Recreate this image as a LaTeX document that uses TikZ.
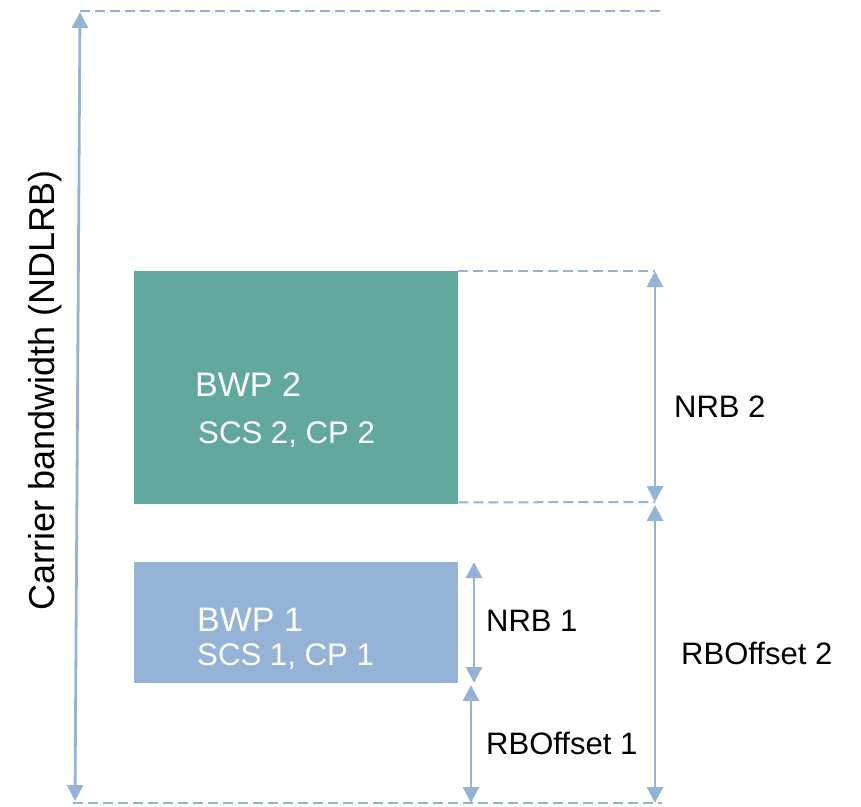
\documentclass[tikz,border=0pt]{standalone}
\usepackage{fontspec}
\setmainfont{Liberation Sans}
\usetikzlibrary{arrows.meta}
\definecolor{bwpgreen}{RGB}{98,168,158}
\definecolor{bwpblue}{RGB}{149,179,215}
\definecolor{dimline}{RGB}{149,179,215}
\begin{document}
\begin{tikzpicture}[x=1pt,y=-1pt,
  dimtip/.tip={Triangle[length=16pt,width=16pt]},
  dimarrow/.style={draw=dimline, fill=dimline, line width=2.8pt, dimtip-dimtip},
  guide/.style={draw=dimline, line width=2pt, dash pattern=on 10pt off 5pt},
  box/.style={draw=none, minimum width=324pt, anchor=north west, inner sep=0pt},
  lbl/.style={font=\fontsize{31}{37}\selectfont, text=black, anchor=west, inner sep=0pt},
  title/.style={font=\fontsize{34}{40}\selectfont, text=white, anchor=west, inner sep=0pt},
  sub/.style={font=\fontsize{31.2}{37}\selectfont, text=white, anchor=west, inner sep=0pt},
]
\useasboundingbox (0,0) rectangle (861,806);

% bandwidth parts
\node[box, fill=bwpgreen, minimum height=233pt] (bwp2) at (134,271) {};
\node[box, fill=bwpblue, minimum height=121pt] (bwp1) at (134,562) {};
\node[title] (t2) at (195,385) {BWP 2};
\node[sub] (s2) at (198,435) {SCS 2, CP 2};
\node[title] (t1) at (197,620) {BWP 1};
\node[sub] (s1) at (197,657) {SCS 1, CP 1};

% reference levels
\coordinate (ctop) at (80,11);
\coordinate (ctopR) at (663,11);
\coordinate (cbot) at (73,803);
\coordinate (cbotR) at (662,803);
\coordinate (n2top) at (655,271);
\coordinate (n2bot) at (655,502);
\coordinate (o2top) at (655,505);
\coordinate (o2bot) at (655,803);
\coordinate (n1top) at (474,562);
\coordinate (n1bot) at (474,683);
\coordinate (o1top) at (471,685);
\coordinate (o1bot) at (471,803);

\draw[guide] (ctop) -- (ctopR);
\draw[guide] (cbot) -- (cbotR);
\draw[guide] (bwp2.north east) -- (n2top);
\draw[guide] ([yshift=2pt]bwp2.south east) -- (n2bot);

% dimension arrows
\draw[dimarrow] (80,12) -- (75,801);
\draw[dimarrow] (n2top) -- (n2bot);
\draw[dimarrow] (o2top) -- (o2bot);
\draw[dimarrow] (n1top) -- (n1bot);
\draw[dimarrow] (o1top) -- (o1bot);

% labels
\node[lbl] (ln2) at (674,407) {NRB 2};
\node[lbl] (lo2) at (681,653) {RBOffset 2};
\node[lbl] (ln1) at (486,621) {NRB 1};
\node[lbl] (lo1) at (486,743) {RBOffset 1};
\node[font=\fontsize{36}{42}\selectfont, rotate=90, inner sep=0pt] (lc) at (45,390) {Carrier bandwidth (NDLRB)};
\end{tikzpicture}
\end{document}
